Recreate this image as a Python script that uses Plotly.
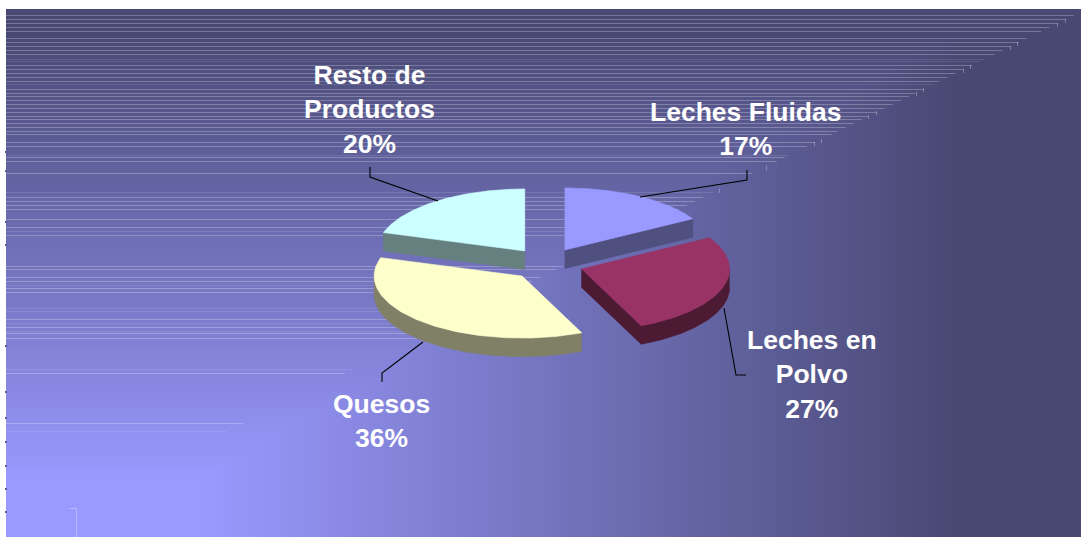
import numpy as np
import plotly.graph_objects as go

# ---- data ----
categories = ["Leches Fluidas", "Leches en<br>Polvo", "Quesos", "Resto de<br>Productos"]
values = [16.6, 26.8, 36.4, 20.2]
top_colors = ["#9999FF", "#993366", "#FFFFCC", "#CCFFFF"]
side_colors = ["#4F4F80", "#4D1A33", "#808066", "#668080"]

# ---- decorative background streaks (image rows) ----
bright_rows = [15, 19, 23, 27, 31, 38, 42, 46, 50, 54, 65, 69, 73, 77, 81, 89, 93, 96,
               100, 104, 108, 112, 116, 119, 123, 127, 131, 134, 142, 146, 157, 161, 173,
               197, 201, 205, 209, 219, 227, 235, 266, 269, 277, 281, 288, 292, 319, 327,
               333, 338, 373, 423]
dim_rows = [59, 61, 84, 155, 192, 231, 285, 308, 311, 323, 331, 369, 431]
end_ticks = [(1065, 19), (1057, 23), (1017, 42), (1010, 46), (970, 65), (963, 69), (923, 88),
             (916, 92), (876, 111), (868, 115), (821, 139), (814, 142), (766, 166), (719, 189)]
left_ticks = [152, 171, 222, 245, 346, 392, 418, 442, 466, 489, 512]

W, H = 1081, 537
X0, Y0 = 6, 9

# ---- background: rectangular gradient from the lower-left corner ----
step = 3
gx = np.arange(X0 + step / 2, W + step, step)
gy = np.arange(Y0 + step / 2, H + step, step)
xx, yy = np.meshgrid(gx, gy)
t = np.maximum((xx - 200) / 760, (480 - yy) / 450).clip(0, 1)

fig = go.Figure()
fig.add_trace(go.Heatmap(x=gx, y=gy, z=np.round(t, 3), zmin=0, zmax=1, showscale=False,
                         colorscale=[[0, "#9999FF"], [1, "#484873"]], hoverinfo="skip"))


def row_end(y):
    return (H - y) * (W - X0) / (H - Y0) + X0 + 5


def segs(rows):
    xs, ys = [], []
    for r in rows:
        xs += [X0, min(row_end(r), W), None]
        ys += [r + 0.5, r + 0.5, None]
    return xs, ys


for rows, alpha in ((bright_rows, 0.25), (dim_rows, 0.11)):
    sx, sy = segs(rows)
    fig.add_trace(go.Scatter(x=sx, y=sy, mode="lines", hoverinfo="skip",
                             line=dict(color=f"rgba(255,255,255,{alpha})", width=1)))

tx, ty = [], []
for px, py in end_ticks:
    tx += [px + 0.5, px + 0.5, None]
    ty += [py, py + 4, None]
tx += [69, 76.5, 76.5, None]
ty += [508.5, 508.5, 537, None]
fig.add_trace(go.Scatter(x=tx, y=ty, mode="lines", hoverinfo="skip",
                         line=dict(color="rgba(255,255,255,0.3)", width=1)))
lx, ly = [], []
for r in left_ticks:
    lx += [5, 7, None]
    ly += [r, r, None]
fig.add_trace(go.Scatter(x=lx, y=ly, mode="lines", hoverinfo="skip",
                         line=dict(color="#5A5A9A", width=2)))

# ---- pseudo 3-D exploded pie, projected from the values ----
CX, CY, RX, RY = 546.6, 264.0, 148.0, 62.0
EX, EY, DEPTH = 36.8, 16.2, 18.5

total = sum(values)
bounds = np.concatenate([[0], np.cumsum(values) / total * 360])


def pt(theta, ax, ay):
    r = np.radians(theta)
    return ax + RX * np.sin(r), ay - RY * np.cos(r)


def poly(x, y, color):
    fig.add_trace(go.Scatter(x=list(x), y=list(y), mode="lines", fill="toself", fillcolor=color,
                             line=dict(color=color, width=0.6), hoverinfo="skip"))


for i in (3, 0, 1, 2):
    s, e = bounds[i], bounds[i + 1]
    mid = np.radians((s + e) / 2)
    ax, ay = CX + EX * np.sin(mid), CY - EY * np.cos(mid)
    # flat cut faces
    for th, visible in ((s, np.sin(np.radians(s)) < -1e-6), (e, np.sin(np.radians(e)) > 1e-6)):
        if visible:
            px, py = pt(th, ax, ay)
            poly([ax, px, px, ax, ax], [ay, py, py + DEPTH, ay + DEPTH, ay], side_colors[i])
    # outer rim
    lo, hi = max(s, 90), min(e, 270)
    if hi > lo:
        th = np.linspace(lo, hi, 80)
        px, py = pt(th, ax, ay)
        poly(np.r_[px, px[::-1]], np.r_[py, (py + DEPTH)[::-1]], side_colors[i])
    # top face
    th = np.linspace(s, e, 120)
    px, py = pt(th, ax, ay)
    poly(np.r_[ax, px, ax], np.r_[ay, py, ay], top_colors[i])

# ---- leader lines ----
leaders = [
    ([747, 747, 640], [170, 180, 197]),
    ([724, 736, 746], [308, 375, 375]),
    ([423, 382, 382], [342, 373, 382]),
    ([370, 370, 438], [167, 177, 201]),
]
for lxs, lys in leaders:
    fig.add_trace(go.Scatter(x=lxs, y=lys, mode="lines", hoverinfo="skip",
                             line=dict(color="#000000", width=1.1)))

# ---- labels ----
label_pos = [(745.5, 129), (812, 374.5), (381, 421), (369.5, 109.5)]
for name, v, (lx_, ly_) in zip(categories, values, label_pos):
    fig.add_annotation(x=lx_, y=ly_, xref="x", yref="y", showarrow=False, align="center",
                       text=f"<b>{name}<br>{round(v)}%</b>", xanchor="center", yanchor="middle",
                       font=dict(family="Liberation Sans, Arial, sans-serif", size=26.5, color="#FFFFFF"))

fig.update_layout(
    width=W, height=H, margin=dict(l=0, r=0, t=0, b=0), showlegend=False,
    paper_bgcolor="#FFFFFF", plot_bgcolor="#FFFFFF",
    xaxis=dict(range=[0, W], visible=False, fixedrange=True),
    yaxis=dict(range=[H, 0], visible=False, fixedrange=True),
)
fig.write_html("out.html", config={"displayModeBar": False},
               post_script="document.body.style.margin='0';document.body.style.overflow='hidden';")
